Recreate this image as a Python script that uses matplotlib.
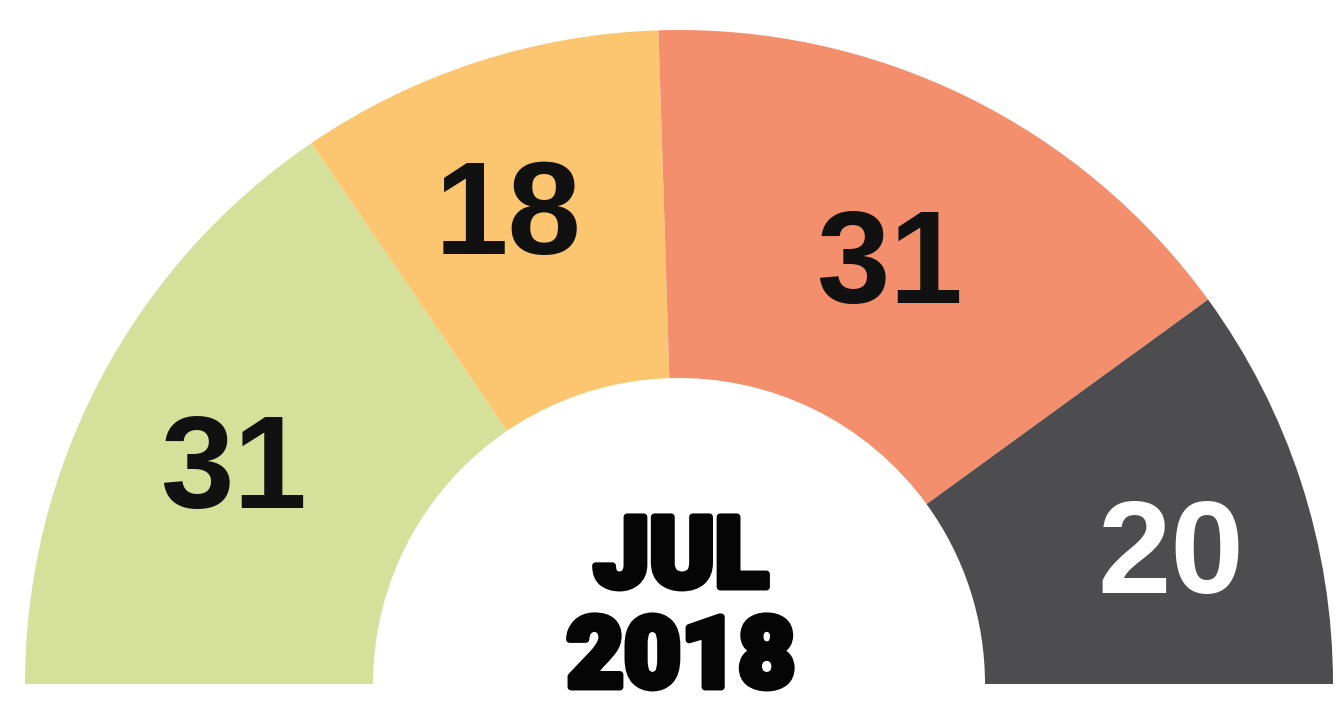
import matplotlib
matplotlib.use('Agg')
import matplotlib.pyplot as plt
import matplotlib.patheffects as pe
import numpy as np

# Values shown on the half-donut
values = [31, 18, 31, 20]
labels = ['31', '18', '31', '20']
colors = ['#d5e19b', '#fcc670', '#f48f6e', '#4d4c4f']
label_colors = ['#111111', '#111111', '#111111', '#ffffff']
center_lines = ['JUL', '2018']

fig = plt.figure(figsize=(13.44, 7.06), dpi=100)
ax = fig.add_axes([0, 0, 1, 1])

# Work in pixel-like data units, y going up
cx, cy = 679, 22
r_out, r_in = 654, 306
total = sum(values)

# Full pie where the extra (invisible) half closes the circle
wedges, _ = ax.pie(values + [total], colors=colors + ['none'],
                   startangle=180, counterclock=False,
                   radius=r_out, center=(cx, cy),
                   wedgeprops=dict(width=r_out - r_in, linewidth=0))

# Labels near the middle of each wedge (radius fraction, angle nudge)
label_r = [0.76, 0.77, 0.725, 0.78]
label_dang = [1.6, 1.8, -0.3, -2.6]
cum = np.cumsum([0] + values)
for i, lab in enumerate(labels):
    mid = 180 - (cum[i] + values[i] / 2) / total * 180 + label_dang[i]
    t = np.deg2rad(mid)
    x = cx + label_r[i] * r_out * np.cos(t)
    y = cy + label_r[i] * r_out * np.sin(t) + 4
    ax.text(x, y, lab, ha='center', va='center_baseline', fontsize=95,
            fontweight='bold', family=['Liberation Sans', 'DejaVu Sans'],
            color=label_colors[i])

heavy = [pe.withStroke(linewidth=5, foreground='#050505')]
ax.text(cx + 2, 156, center_lines[0], ha='center', va='center_baseline',
        fontsize=71, fontweight='black', family=['Roboto', 'Liberation Sans'],
        color='#050505', path_effects=heavy)
ax.text(cx + 2, 56, center_lines[1], ha='center', va='center_baseline',
        fontsize=71, fontweight='black', family=['Roboto', 'Liberation Sans'],
        color='#050505', path_effects=heavy)

ax.set_xlim(0, 1344)
ax.set_ylim(0, 706)
ax.set_aspect('equal')
ax.axis('off')

fig.savefig('out.png', dpi=100, facecolor='white')
